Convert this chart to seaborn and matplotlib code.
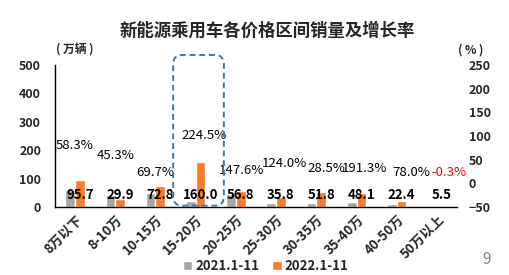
import matplotlib
matplotlib.use("Agg")
import matplotlib.pyplot as plt
from matplotlib.patches import FancyBboxPatch
from matplotlib.transforms import IdentityTransform
import seaborn as sns
import pandas as pd
import numpy as np

# ---- data ----
categories = ["8万以下", "8-10万", "10-15万", "15-20万", "20-25万",
              "25-30万", "30-35万", "35-40万", "40-50万", "50万以上"]
sales_2021 = [59, 41, 49, 20, 45, 15.5, 15.5, 19, 10.5, 3]
sales_2022 = [95.7, 29.9, 72.8, 160.0, 56.8, 35.8, 51.8, 48.1, 22.4, 5.5]
growth = [58.3, 45.3, 69.7, 224.5, 147.6, 124.0, 28.5, 191.3, 78.0, -0.3]
series_names = ["2021.1-11", "2022.1-11"]
left_ticks = [0, 100, 200, 300, 400, 500]
right_ticks = [-50, 0, 50, 100, 150, 200, 250]

# ---- layout (label heights, in left-axis units) ----
rate_label_y = [218, 180, 120, 253, 130, 155, 134, 134, 123, 123]
rate_label_dx = [0.0, 0.0, 0.0, 0.2, 0.15, 0.2, 0.25, 0.2, 0.35, 0.3]
value_label_y = 43

sns.set_style("white")
plt.rcParams["font.family"] = ["Noto Sans CJK SC", "DejaVu Sans"]

df = pd.DataFrame({
    "cat": categories * 2,
    "val": sales_2021 + sales_2022,
    "series": [series_names[0]] * len(categories) + [series_names[1]] * len(categories),
})

fig = plt.figure(figsize=(5.09, 2.75), dpi=100)
ax = fig.add_axes([0.108, 0.247, 0.79, 0.517])

colors = {"2021.1-11": "#a6a6a6", "2022.1-11": "#ff7a22"}
sns.barplot(data=df, x="cat", y="val", hue="series", palette=colors,
            width=0.48, saturation=1, errorbar=None, ax=ax, order=categories)

ax.set_ylim(0, 500)
ax.set_xlim(-0.5, len(categories) - 0.5)
ax.set_yticks(left_ticks)
ax.set_xlabel("")
ax.set_ylabel("")
for s in ["top", "right"]:
    ax.spines[s].set_visible(False)
ax.spines["left"].set_color("black")
ax.spines["bottom"].set_color("black")
ax.spines["left"].set_linewidth(1.0)
ax.spines["bottom"].set_linewidth(1.0)
ax.tick_params(axis="y", length=0, pad=10, labelsize=9)
ax.tick_params(axis="x", length=0, pad=4)
for lbl in ax.get_yticklabels():
    lbl.set_fontweight("bold")
ax.set_xticks(range(len(categories)))
ax.set_xticklabels(categories, rotation=45, ha="right", rotation_mode="anchor",
                   fontsize=9.5, fontweight="bold")

handles, labels = ax.get_legend_handles_labels()
ax.get_legend().remove()

ax2 = ax.twinx()
ax2.set_ylim(-50, 250)
ax2.set_yticks(right_ticks)
for s in ["top", "right", "left", "bottom"]:
    ax2.spines[s].set_visible(False)
ax2.tick_params(axis="y", length=0, pad=8.5, labelsize=9)
for lbl in ax2.get_yticklabels():
    lbl.set_fontweight("bold")

# value labels (over orange bars)
for i, v in enumerate(sales_2022):
    ax.text(i + 0.12, value_label_y, f"{v:.1f}", ha="center", va="center",
            fontsize=9.5, fontweight="bold", color="black", zorder=5)

# growth labels
for i, g in enumerate(growth):
    ax.text(i + rate_label_dx[i], rate_label_y[i], f"{g:.1f}%", ha="center", va="center",
            fontsize=9.5, color="#ff0000" if g < 0 else "black", zorder=5)

# title and unit labels
fig.text(0.525, 0.89, "新能源乘用车各价格区间销量及增长率", ha="center", va="center",
         fontsize=12.5, fontweight="bold")
fig.text(0.146, 0.818, "( 万辆 )", ha="center", va="center", fontsize=8.5, fontweight="bold")
fig.text(0.924, 0.818, "( % )", ha="center", va="center", fontsize=8.5, fontweight="bold")

# dashed highlight box around 15-20万
fig.canvas.draw()
k = categories.index("15-20万")
x0, y0 = ax.transData.transform((k - 0.56, 5))
x1, y1 = ax.transData.transform((k + 0.7, 535))
box = FancyBboxPatch((x0, y0), x1 - x0, y1 - y0,
                     boxstyle="round,pad=0,rounding_size=9",
                     transform=IdentityTransform(), fill=False,
                     edgecolor="#3a79a6", linestyle=(0, (3, 2)), linewidth=1.4,
                     zorder=10)
fig.patches.append(box)

# legend
fig.legend(handles, labels, loc="center", bbox_to_anchor=(0.522, 0.033), ncol=2,
           frameon=False, handlelength=0.7, handleheight=0.7,
           handletextpad=0.25, columnspacing=1.0,
           prop={"weight": "bold", "size": 9.5})

fig.text(0.957, 0.055, "9", ha="center", va="center", fontsize=11, color="#808080")

fig.savefig("out.png", dpi=100)
